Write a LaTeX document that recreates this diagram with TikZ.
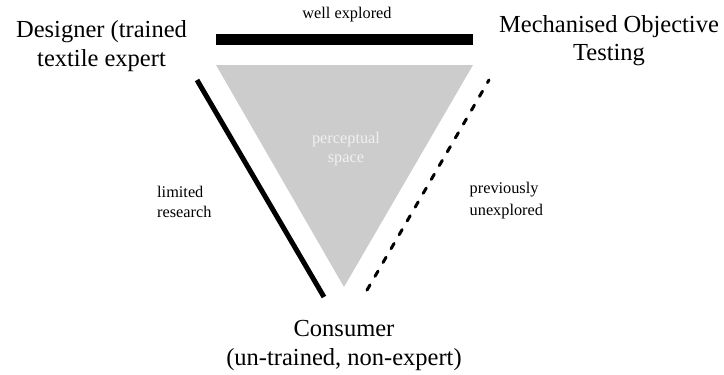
\documentclass[tikz,border=0pt]{standalone}
\usepackage{fontspec}
\setmainfont{Liberation Serif}
\definecolor{spacegray}{RGB}{204,204,204}
\definecolor{spacetext}{RGB}{240,240,240}
\tikzset{
  bigtext/.style={font=\fontsize{24.5}{28}\selectfont, inner sep=0pt, anchor=base},
  smalltext/.style={font=\fontsize{16.3}{20}\selectfont, inner sep=0pt, anchor=base},
  solidedge/.style={line width=5pt, line cap=butt},
  dashededge/.style={line width=3pt, line cap=round, dash pattern=on 6pt off 10pt, dash phase=3pt},
}
\begin{document}
\begin{tikzpicture}[x=1pt,y=-1pt]
\useasboundingbox (0,0) rectangle (724,375);
% corners of perceptual space
\coordinate (tl) at (216,65);
\coordinate (tr) at (473,65);
\coordinate (ap) at (344,287);
\fill[spacegray] (tl) -- (tr) -- (ap) -- cycle;
% top bar
\fill[black] (216,34) rectangle (473,45);
% left solid edge
\coordinate (ls) at (197,80);
\coordinate (le) at (324,297);
\draw[solidedge] (ls) -- (le);
% right dashed edge
\coordinate (rs) at (489,80);
\coordinate (re) at (363,297);
\draw[dashededge] (rs) -- (re);
% labels
\node[smalltext] (well) at (347,18) {well explored};
\node[bigtext] (des1) at (101.5,37) {Designer (trained};
\node[bigtext] (des2) at (101.5,66) {textile expert};
\node[bigtext] (mec1) at (609,32) {Mechanised Objective};
\node[bigtext] (mec2) at (609,60.5) {Testing};
\node[smalltext, text=spacetext] (per1) at (346,143) {perceptual};
\node[smalltext, text=spacetext] (per2) at (346,162) {space};
\node[smalltext, anchor=base west] (lim1) at (157,197) {limited};
\node[smalltext, anchor=base west] (lim2) at (157,217) {research};
\node[smalltext, anchor=base west] (pre1) at (469.5,193) {previously};
\node[smalltext, anchor=base west] (pre2) at (469.5,215) {unexplored};
\node[bigtext] (con1) at (344,336) {Consumer};
\node[bigtext] (con2) at (344,365) {(un-trained, non-expert)};
\end{tikzpicture}
\end{document}
